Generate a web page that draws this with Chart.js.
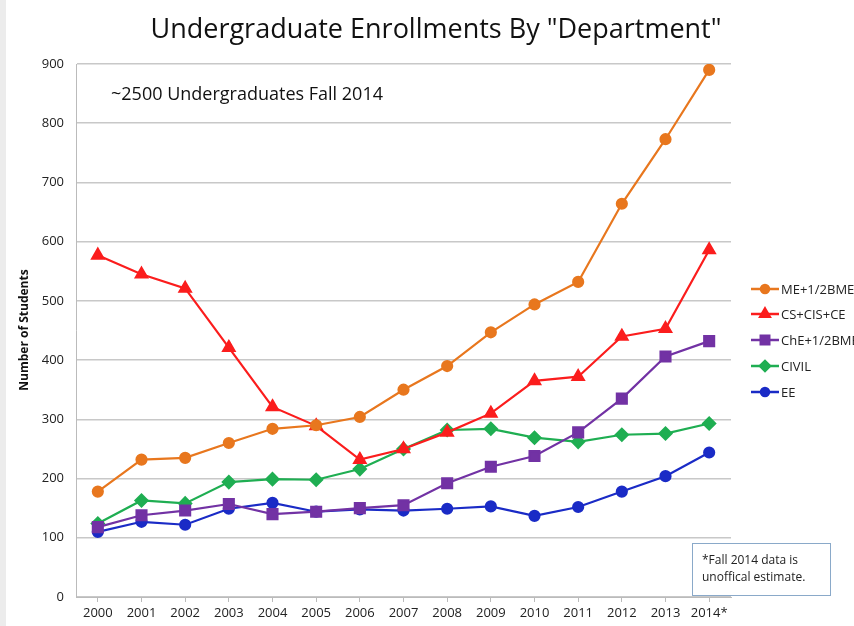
<!DOCTYPE html>
<html>
<head>
<meta charset="utf-8">
<script src="https://cdn.jsdelivr.net/npm/chart.js@4/dist/chart.umd.min.js"></script>
<style>
  html, body { margin: 0; padding: 0; background: #fff; }
  #wrap { width: 854px; height: 626px; position: relative; }
</style>
</head>
<body>
<div id="wrap"><canvas id="grafico" width="854" height="626"></canvas></div>
<script>
// dados
const anos = ['2000','2001','2002','2003','2004','2005','2006','2007','2008','2009','2010','2011','2012','2013','2014*'];
const me   = [178, 232, 235, 260, 284, 290, 304, 350, 390, 447, 494, 532, 664, 773, 890];
const cs   = [577, 545, 521, 421, 321, 289, 232, 250, 278, 310, 365, 372, 440, 453, 586];
const che  = [118, 138, 146, 157, 140, 144, 150, 155, 192, 220, 238, 278, 335, 406, 432];
const civil = [124, 163, 158, 194, 199, 198, 216, 250, 282, 284, 269, 262, 274, 276, 293];
const ee   = [110, 127, 122, 149, 159, 144, 148, 146, 149, 153, 137, 152, 178, 204, 244];
const nomes = ['ME+1/2BME', 'CS+CIS+CE', 'ChE+1/2BME', 'CIVIL', 'EE'];
const yTicks = [0, 100, 200, 300, 400, 500, 600, 700, 800, 900];

const FONT = '"Open Sans", "Liberation Sans", sans-serif';

function serie(label, data, cor, estilo, raio) {
    return {
        label: label,
        data: data,
        borderColor: cor,
        backgroundColor: cor,
        pointBackgroundColor: cor,
        pointBorderColor: cor,
        pointStyle: estilo,
        pointRadius: raio,
        borderWidth: 2.2,
        tension: 0
    };
}

// textos extras, legenda e caixa de nota
const extras = {
    id: 'extras',
    afterDraw(chart) {
        const c = chart.ctx;
        c.save();
        // título
        c.fillStyle = '#111';
        c.font = '27px ' + FONT;
        c.textAlign = 'center';
        c.textBaseline = 'middle';
        c.fillText('Undergraduate Enrollments By "Department"', 436, 30);

        // anotação
        c.font = '18px ' + FONT;
        c.textAlign = 'left';
        c.fillText('~2500 Undergraduates Fall 2014', 111, 95);

        // título do eixo y
        c.save();
        c.translate(25, 330);
        c.rotate(-Math.PI / 2);
        c.font = 'bold 12px ' + FONT;
        c.textAlign = 'center';
        c.fillText('Number of Students', 0, 0);
        c.restore();

        // legenda
        const ys = [289, 314, 340, 366, 392];
        chart.data.datasets.forEach((ds, i) => {
            const y = ys[i];
            c.strokeStyle = ds.borderColor;
            c.lineWidth = 2.5;
            c.beginPath();
            c.moveTo(751, y);
            c.lineTo(779, y);
            c.stroke();
            Chart.helpers.drawPoint(c, {
                pointStyle: ds.pointStyle,
                radius: ds.pointRadius - 1,
                borderWidth: 1
            }, 765, y);
            c.fillStyle = ds.borderColor;
            c.fill();
            c.fillStyle = '#222';
            c.font = '13px ' + FONT;
            c.textAlign = 'left';
            c.fillText(ds.label, 781, y + 1);
        });

        // caixa de nota
        c.fillStyle = '#fff';
        c.fillRect(692, 543, 138, 52);
        c.strokeStyle = '#8aa9c9';
        c.lineWidth = 1;
        c.strokeRect(692.5, 543.5, 138, 52);
        c.fillStyle = '#222';
        c.font = '12px ' + FONT;
        c.fillText('*Fall 2014 data is', 702, 561);
        c.fillText('unoffical estimate.', 702, 578);

        // faixa cinza à esquerda
        c.fillStyle = '#ececec';
        c.fillRect(0, 0, 6, 626);
        c.restore();
    }
};

new Chart(document.getElementById('grafico'), {
    type: 'line',
    data: {
        labels: anos,
        datasets: [
            serie(nomes[0], me, '#e8771e', 'circle', 5),
            serie(nomes[1], cs, '#fb1d1d', 'triangle', 6.5),
            serie(nomes[2], che, '#7232a4', 'rect', 7),
            serie(nomes[3], civil, '#1fae52', 'rectRot', 6),
            serie(nomes[4], ee, '#1a2bc6', 'circle', 5)
        ]
    },
    options: {
        responsive: false,
        animation: false,
        layout: { padding: { left: 0, right: 123, top: 64, bottom: 0 } },
        plugins: {
            legend: { display: false },
            title: { display: false },
            tooltip: { enabled: false }
        },
        scales: {
            x: {
                offset: true,
                grid: {
                    display: true,
                    drawOnChartArea: false,
                    drawTicks: true,
                    tickLength: 5,
                    color: '#bbb',
                    offset: false
                },
                border: { color: '#bbb' },
                ticks: {
                    color: '#222',
                    font: { family: FONT, size: 13 },
                    maxRotation: 0,
                    autoSkip: false,
                    padding: 3
                },
                afterFit(axis) { axis.height = 29; }
            },
            y: {
                min: 0,
                max: 900,
                afterBuildTicks(axis) { axis.ticks = yTicks.map(v => ({ value: v })); },
                grid: { color: '#c8c8c8', lineWidth: 1.5, drawTicks: false },
                border: { color: '#bbb' },
                ticks: {
                    color: '#222',
                    font: { family: FONT, size: 13 },
                    padding: 12
                },
                afterFit(axis) { axis.width = 76; }
            }
        }
    },
    plugins: [extras]
});
</script>
</body>
</html>
